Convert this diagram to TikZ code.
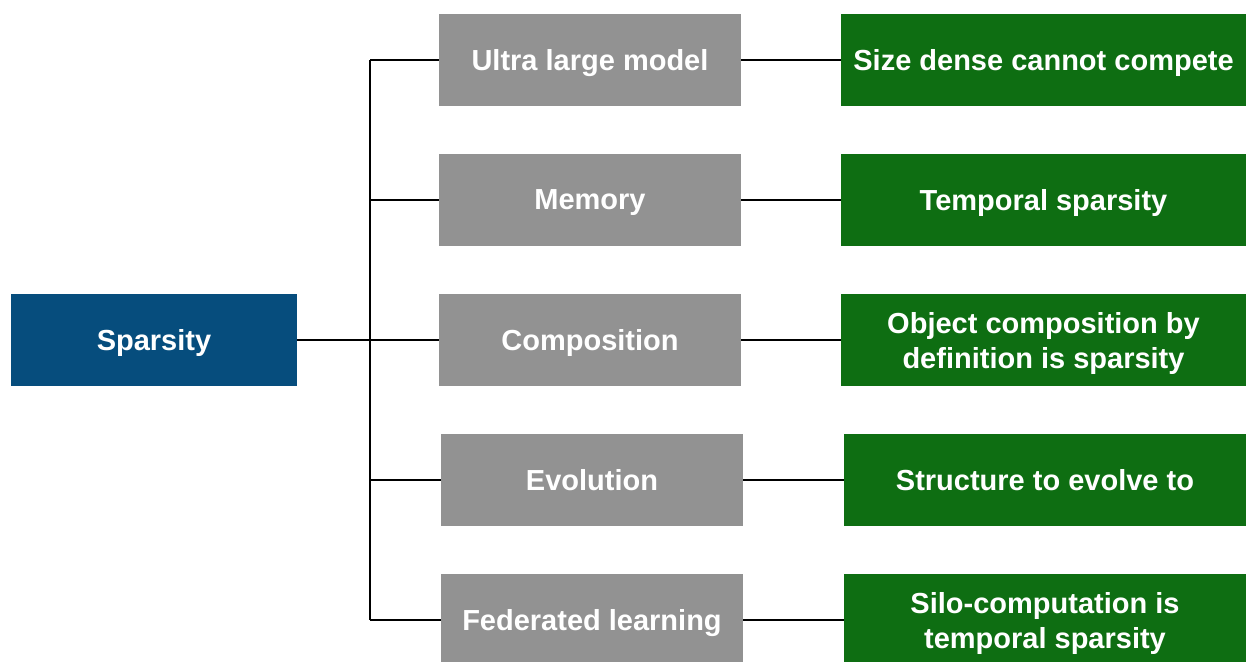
\documentclass[tikz,border=0pt]{standalone}
\usepackage{fontspec}
\setmainfont{Liberation Sans}
\definecolor{rootblue}{RGB}{6,77,125}
\definecolor{midgray}{RGB}{146,146,146}
\definecolor{leafgreen}{RGB}{14,110,18}
\begin{document}
\begin{tikzpicture}[x=0.5pt,y=-0.5pt,
  box/.style={rectangle, inner sep=0pt, text=white, align=center,
    minimum height=46pt, text depth=0pt,
    font=\bfseries\fontsize{14.5}{17.5}\selectfont},
  rootbox/.style={box, fill=rootblue, minimum width=143pt},
  topicbox/.style={box, fill=midgray, minimum width=151pt},
  leafbox/.style={box, fill=leafgreen},
  link/.style={line width=1pt, black}]
\useasboundingbox (0,0) rectangle (1246,661);
\clip (0,0) rectangle (1246,661);

% root
\node[rootbox] (root) at (154,340) {Sparsity};

% topics
\node[topicbox] (t1) at (590,60)  {Ultra large model};
\node[topicbox] (t2) at (590,200) {Memory};
\node[topicbox] (t3) at (590,340) {Composition};
\node[topicbox] (t4) at (592,480) {Evolution};
\node[topicbox] (t5) at (592,620) {Federated learning};

% consequences
\node[leafbox, minimum width=202.5pt] (l1) at (1043.5,60)  {Size dense cannot compete};
\node[leafbox, minimum width=202.5pt] (l2) at (1043.5,200) {Temporal sparsity};
\node[leafbox, minimum width=202.5pt] (l3) at (1043.5,340) {Object composition by\\definition is sparsity};
\node[leafbox, minimum width=201pt] (l4) at (1045,480) {Structure to evolve to};
\node[leafbox, minimum width=201pt] (l5) at (1045,620) {Silo-computation is\\temporal sparsity};

% trunk joints
\coordinate (j1) at (370,60);
\coordinate (j2) at (370,200);
\coordinate (j4) at (370,480);
\coordinate (j5) at (370,620);

\draw[link] (j1) -- (j5);
\draw[link] (root.east) -- (t3.west);
\foreach \i in {1,2,4,5} \draw[link] (j\i) -- (t\i.west);
\foreach \i in {1,...,5} \draw[link] (t\i.east) -- (l\i.west);
\end{tikzpicture}
\end{document}
